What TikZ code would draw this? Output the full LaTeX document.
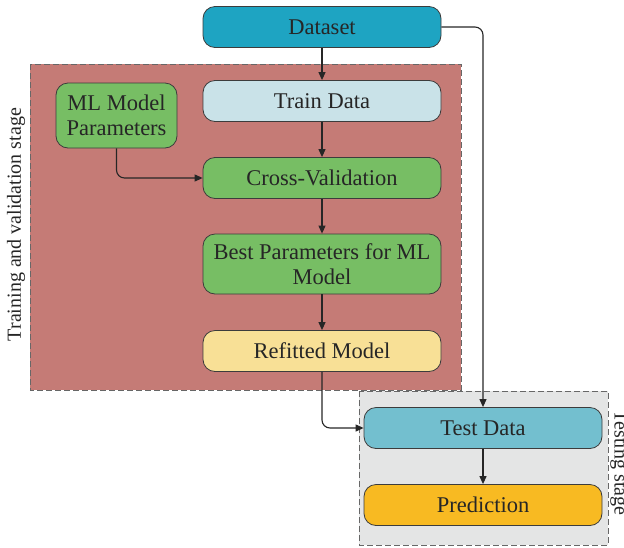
\documentclass[tikz,border=0pt]{standalone}
\usepackage{fontspec}
\setmainfont{Liberation Serif}
\usetikzlibrary{arrows.meta,positioning}
\definecolor{cdataset}{HTML}{1EA4C2}
\definecolor{ctrain}{HTML}{C9E2E8}
\definecolor{cgreen}{HTML}{77BE64}
\definecolor{cyellow}{HTML}{F8E096}
\definecolor{ctest}{HTML}{73BFCF}
\definecolor{cpred}{HTML}{F8BA22}
\definecolor{cred}{HTML}{C57B76}
\definecolor{cgray}{HTML}{E4E5E5}
\definecolor{ctext}{HTML}{262626}
\tikzset{
  box/.style={draw=ctext!90, line width=0.8pt, rounded corners=12pt, minimum width=238pt, minimum height=41pt, inner sep=2pt, align=center, font=\fontsize{22.5}{25}\selectfont, text=ctext},
  conn/.style={draw=ctext, line width=1.1pt, -{Triangle[length=8pt,width=7pt]}, rounded corners=8pt},
  stage/.style={draw=ctext!70, dashed, dash pattern=on 6pt off 3pt, line width=0.9pt},
  stagelabel/.style={font=\fontsize{20}{22}\selectfont, text=ctext, inner sep=0pt},
}
\begin{document}
\begin{tikzpicture}[x=1pt,y=-1pt]
\useasboundingbox (0,0) rectangle (624,547);
\fill[cred] (30,64) rectangle (461,390);
\draw[stage] (30,64) rectangle (461,390);
\fill[cgray] (359,391) rectangle (608,545);
\draw[stage] (359,391) rectangle (608,545);
\node[box, fill=cdataset] (ds) at (322,27) {Dataset};
\node[box, fill=ctrain] (tr) at (322,101) {Train Data};
\node[box, fill=cgreen, minimum width=121pt, minimum height=65pt] (mlp) at (116.5,115.5) {ML Model\\Parameters};
\node[box, fill=cgreen] (cv) at (322,178) {Cross-Validation};
\node[box, fill=cgreen, minimum height=60pt] (bp) at (322,264) {Best Parameters for ML\\Model};
\node[box, fill=cyellow] (rf) at (322,351) {Refitted Model};
\node[box, fill=ctest] (td) at (483,428) {Test Data};
\node[box, fill=cpred] (pr) at (483,505) {Prediction};
\node[rotate=90, stagelabel] (lab1) at (16,224.5) {Training and validation stage};
\node[rotate=-90, stagelabel] (lab2) at (619,463) {Testing stage};
\draw[conn] (ds) -- (tr);
\draw[conn] (tr) -- (cv);
\draw[conn] (cv) -- (bp);
\draw[conn] (bp) -- (rf);
\draw[conn] (td) -- (pr);
\draw[conn] (mlp.south) |- (cv.west);
\draw[conn] (rf.south) |- (td.west);
\draw[conn] (ds.east) -| (td.north);
\end{tikzpicture}
\end{document}
